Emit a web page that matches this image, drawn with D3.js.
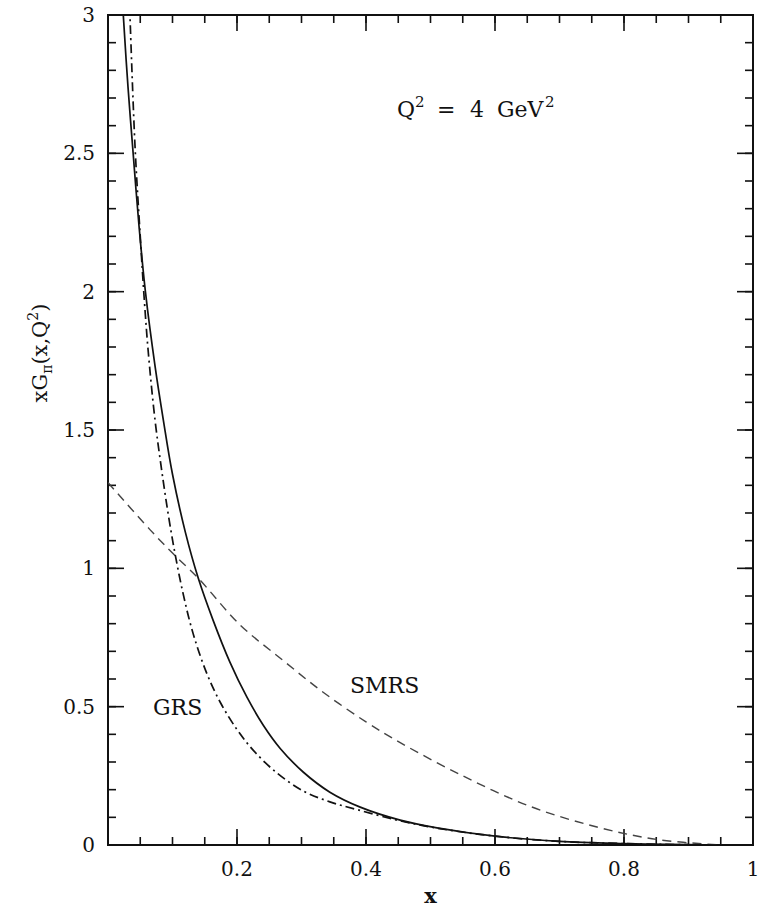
<!DOCTYPE html>
<html>
<head>
<meta charset="utf-8">
<script src="https://cdn.jsdelivr.net/npm/d3@7"></script>
<style>
  body { margin: 0; background: #fff; }
  text { font-family: "DejaVu Serif", serif; fill: #111; }
</style>
</head>
<body>
<div class="chart"></div>
<script>
// solid curve (no label)
var solidX = [0.0215, 0.0237, 0.031, 0.039, 0.048, 0.058, 0.073, 0.0858, 0.100, 0.120, 0.140, 0.163, 0.189, 0.215, 0.241, 0.267, 0.303, 0.344, 0.391, 0.453, 0.510, 0.600, 0.700, 0.800, 0.900, 0.950];
var solidY = [3.10, 3.00, 2.74, 2.50, 2.24, 2.00, 1.73, 1.536, 1.34, 1.13, 0.964, 0.812, 0.661, 0.536, 0.432, 0.349, 0.263, 0.191, 0.137, 0.090, 0.062, 0.032, 0.013, 0.005, 0.001, 0.0];

// GRS (dash-dot)
var grsX = [0.0325, 0.034, 0.042, 0.050, 0.056, 0.0625, 0.0729, 0.0832, 0.0935, 0.1039, 0.1168, 0.132, 0.153, 0.174, 0.1995, 0.225, 0.2615, 0.303, 0.344, 0.386, 0.450, 0.510, 0.600, 0.700, 0.800, 0.900];
var grsY = [3.10, 3.00, 2.52, 2.20, 1.98, 1.78, 1.536, 1.355, 1.194, 1.053, 0.905, 0.764, 0.621, 0.516, 0.419, 0.343, 0.261, 0.195, 0.156, 0.128, 0.089, 0.061, 0.032, 0.013, 0.005, 0.001];

// SMRS (dashed)
var smrsX = [0.0, 0.065, 0.100, 0.140, 0.205, 0.271, 0.333, 0.400, 0.453, 0.550, 0.654, 0.758, 0.851, 0.950];
var smrsY = [1.31, 1.14, 1.055, 0.964, 0.795, 0.668, 0.553, 0.445, 0.37, 0.25, 0.14, 0.065, 0.02, 0.0];

var xTickLabels = [0.2, 0.4, 0.6, 0.8, 1];
var yTickLabels = [0, 0.5, 1, 1.5, 2, 2.5, 3];

var width = 762, height = 909;
var plotL = 108, plotR = 753, plotT = 15, plotB = 845;

var svg = d3.select(".chart").append("svg")
	.attr("width", width)
	.attr("height", height);

var x = d3.scaleLinear().domain([0, 1]).range([plotL, plotR]);
var y = d3.scaleLinear().domain([0, 3]).range([plotB, plotT]);

svg.append("clipPath").attr("id", "clip")
	.append("rect")
	.attr("x", plotL).attr("y", plotT)
	.attr("width", plotR - plotL).attr("height", plotB - plotT);

// ticks, inward on all four sides
var xMajor = d3.range(0, 1.0001, 0.2);
var xMinor = d3.range(0, 1.0001, 0.05);
var yMajor = d3.range(0, 3.0001, 0.5);
var yMinor = d3.range(0, 3.0001, 0.1);

var ticks = svg.append("g").attr("stroke", "#111").attr("stroke-width", 1.6);

function addXTicks(vals, len) {
	ticks.selectAll(null).data(vals).enter().append("line")
		.attr("x1", function(d) { return x(d); }).attr("x2", function(d) { return x(d); })
		.attr("y1", plotB).attr("y2", plotB - len);
	ticks.selectAll(null).data(vals).enter().append("line")
		.attr("x1", function(d) { return x(d); }).attr("x2", function(d) { return x(d); })
		.attr("y1", plotT).attr("y2", plotT + len);
}
function addYTicks(vals, len) {
	ticks.selectAll(null).data(vals).enter().append("line")
		.attr("y1", function(d) { return y(d); }).attr("y2", function(d) { return y(d); })
		.attr("x1", plotL).attr("x2", plotL + len);
	ticks.selectAll(null).data(vals).enter().append("line")
		.attr("y1", function(d) { return y(d); }).attr("y2", function(d) { return y(d); })
		.attr("x1", plotR).attr("x2", plotR - len);
}
addXTicks(xMinor, 8);
addXTicks(xMajor, 16);
addYTicks(yMinor, 8);
addYTicks(yMajor, 16);

// frame
svg.append("rect")
	.attr("x", plotL).attr("y", plotT)
	.attr("width", plotR - plotL).attr("height", plotB - plotT)
	.attr("fill", "none").attr("stroke", "#111").attr("stroke-width", 2);

// tick labels
svg.append("g").selectAll("text").data(xTickLabels).enter().append("text")
	.attr("x", function(d) { return x(d); })
	.attr("y", plotB + 31)
	.attr("text-anchor", "middle")
	.style("font-size", "20px")
	.text(function(d) { return d; });

svg.append("g").selectAll("text").data(yTickLabels).enter().append("text")
	.attr("x", plotL - 13)
	.attr("y", function(d) { return y(d) + 7; })
	.attr("text-anchor", "end")
	.style("font-size", "20px")
	.text(function(d) { return d; });

// axis titles
svg.append("text")
	.attr("x", (plotL + plotR) / 2)
	.attr("y", 903)
	.attr("text-anchor", "middle")
	.style("font-size", "21px")
	.style("font-weight", "bold")
	.text("x");

var yl = svg.append("text")
	.attr("transform", "translate(47,353) rotate(-90)")
	.attr("text-anchor", "middle")
	.style("font-size", "21px");
yl.append("tspan").text("xG");
yl.append("tspan").attr("dy", 5).style("font-size", "14px").text("π");
yl.append("tspan").attr("dy", -5).text("(x,Q");
yl.append("tspan").attr("dy", -9).style("font-size", "14px").text("2");
yl.append("tspan").attr("dy", 9).text(")");

// curves
var line = d3.line()
	.x(function(d) { return x(d[0]); })
	.y(function(d) { return y(d[1]); })
	.curve(d3.curveCatmullRom.alpha(0.5));

var curves = svg.append("g").attr("clip-path", "url(#clip)").attr("fill", "none");

curves.append("path")
	.attr("d", line(d3.zip(smrsX, smrsY)))
	.attr("stroke", "#444").attr("stroke-width", 1.4)
	.attr("stroke-dasharray", "9,6");

curves.append("path")
	.attr("d", line(d3.zip(grsX, grsY)))
	.attr("stroke", "#111").attr("stroke-width", 1.7)
	.attr("stroke-dasharray", "9,4,2,4");

curves.append("path")
	.attr("d", line(d3.zip(solidX, solidY)))
	.attr("stroke", "#111").attr("stroke-width", 1.7);

// annotations
svg.append("text").attr("x", 153).attr("y", 715).style("font-size", "22px").text("GRS");
svg.append("text").attr("x", 350).attr("y", 693).style("font-size", "22px").text("SMRS");

var q = svg.append("text").attr("y", 117).style("font-size", "22px");
q.append("tspan").attr("x", 397).text("Q");
q.append("tspan").attr("x", 415).attr("dy", -10).style("font-size", "15px").text("2");
q.append("tspan").attr("x", 437).attr("dy", 10).text("=");
q.append("tspan").attr("x", 470).text("4");
q.append("tspan").attr("x", 497).text("GeV");
q.append("tspan").attr("x", 545).attr("dy", -10).style("font-size", "15px").text("2");
</script>
</body>
</html>
